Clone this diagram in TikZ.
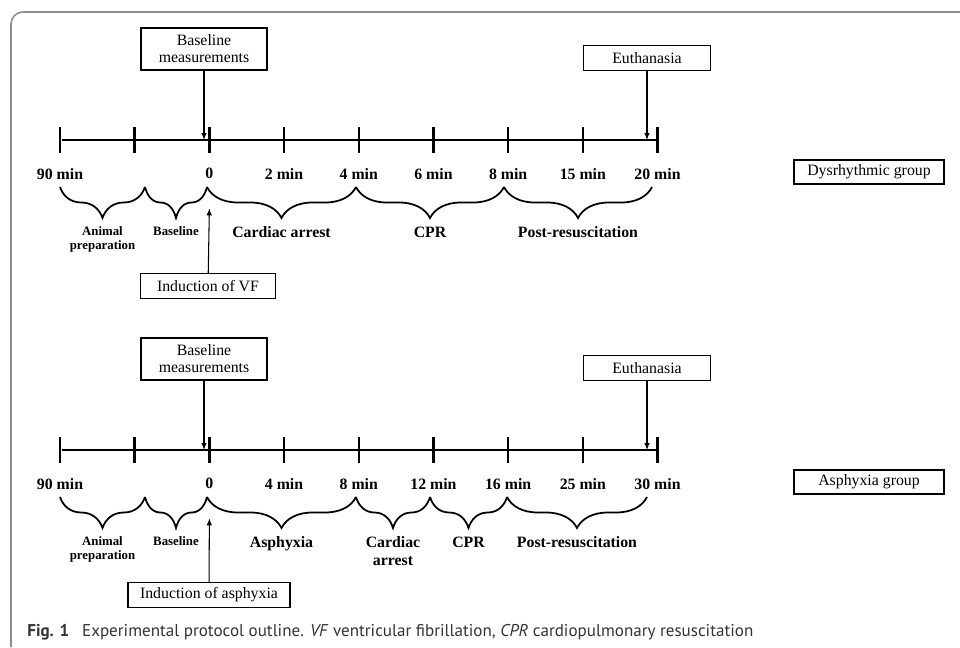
\documentclass[tikz,border=0pt]{standalone}
\usepackage{fontspec}
\setmainfont{Liberation Serif}
\newfontfamily\capfont{PT Sans}
\usetikzlibrary{positioning,arrows.meta,decorations.pathreplacing}

\begin{document}
\begin{tikzpicture}[x=0.02cm,y=-0.02cm,
  tickmark/.style={fill=black,inner sep=0pt,minimum width=0.05cm,minimum height=0.52cm},
  timeline/.style={line width=1.2pt},
  timelabel/.style={font=\bfseries\fontsize{9}{10}\selectfont,inner sep=0pt},
  phase/.style={font=\bfseries\fontsize{9}{10.2}\selectfont,inner sep=0pt,align=center},
  smallphase/.style={font=\bfseries\fontsize{7.3}{7.6}\selectfont,inner sep=0pt,align=center},
  eventbox/.style={draw,line width=0.8pt,inner sep=0pt,minimum height=0.5cm,align=center,font=\fontsize{9}{9.6}\selectfont},
  period/.style={decorate,decoration={brace,mirror,amplitude=0.62cm},line width=1pt},
  pointer/.style={-{Latex[length=1.4mm,width=1.1mm]},line width=0.6pt}]
	\useasboundingbox (0,0) rectangle (960,647);
	\draw[black!45,line width=0.9pt,rounded corners=0.24cm] (960,12) -| (11,647);

	\node[tickmark] (a) at (60,140) {};
	\node[tickmark] (b) [right=1.43cm of a] {};
	\node[tickmark] (c) [right=1.43cm of b] {};
	\node[tickmark] (d) [right=1.43cm of c] {};
	\node[tickmark] (e) [right=1.43cm of d] {};
	\node[tickmark] (f) [right=1.43cm of e] {};
	\node[tickmark] (g) [right=1.43cm of f] {};
	\node[tickmark] (h) [right=1.43cm of g] {};
	\node[tickmark] (i) [right=1.43cm of h] {};
	\draw[timeline] (a) -- (i);

	\node[timelabel] (la) [below=0.29cm of a] {90 min};
	\node[timelabel] (lc) [below=0.29cm of c] {0};
	\node[timelabel] (ld) [below=0.29cm of d] {2 min};
	\node[timelabel] (le) [below=0.29cm of e] {4 min};
	\node[timelabel] (lf) [below=0.29cm of f] {6 min};
	\node[timelabel] (lg) [below=0.29cm of g] {8 min};
	\node[timelabel] (lh) [below=0.29cm of h] {15 min};
	\node[timelabel] (li) [below=0.29cm of i] {20 min};

	\coordinate (p1) at (60,187);
	\coordinate (p2) at (145,187);
	\coordinate (p3) at (207,187);
	\coordinate (p4) at (356,187);
	\coordinate (p5) at (504,187);
	\coordinate (p6) at (652,187);
	\draw[period] (p1) -- (p2) node[smallphase,midway,below=0.78cm] (prep1) {Animal\\preparation};
	\draw[period] (p2) -- (p3) node[smallphase,midway,below=0.78cm] (base1) {Baseline};
	\draw[period] (p3) -- (p4) node[phase,midway,below=0.78cm] (arrest1) {Cardiac arrest};
	\draw[period] (p4) -- (p5) node[phase,midway,below=0.78cm] (cpr1) {CPR};
	\draw[period] (p5) -- (p6) node[phase,midway,below=0.78cm] (post1) {Post-resuscitation};

	\node[eventbox,minimum width=2.52cm,minimum height=0.84cm] (bm1) at (204,49) {Baseline\\measurements};
	\node[eventbox,minimum width=2.54cm] (eu1) at (647,58) {Euthanasia};
	\node[eventbox,minimum width=2.7cm] (iv) at (208,286) {Induction of VF};
	\node[eventbox,minimum width=3cm,minimum height=0.48cm] (dg) at (869,172) {Dysrhythmic group};
	\node[coordinate] (v1) [below=1.1cm of c] {};
	\draw[pointer] (bm1) -- (bm1 |- c);
	\draw[pointer] (eu1) -- (eu1 |- i);
	\draw[pointer] (iv) -- (v1);

	\node[tickmark] (j) at (60,450) {};
	\node[tickmark] (k) [right=1.43cm of j] {};
	\node[tickmark] (l) [right=1.43cm of k] {};
	\node[tickmark] (m) [right=1.43cm of l] {};
	\node[tickmark] (n) [right=1.43cm of m] {};
	\node[tickmark] (o) [right=1.43cm of n] {};
	\node[tickmark] (p) [right=1.43cm of o] {};
	\node[tickmark] (q) [right=1.43cm of p] {};
	\node[tickmark] (r) [right=1.43cm of q] {};
	\draw[timeline] (j) -- (r);

	\node[timelabel] (lj) [below=0.29cm of j] {90 min};
	\node[timelabel] (ll) [below=0.29cm of l] {0};
	\node[timelabel] (lm) [below=0.29cm of m] {4 min};
	\node[timelabel] (ln) [below=0.29cm of n] {8 min};
	\node[timelabel] (lo) [below=0.29cm of o] {12 min};
	\node[timelabel] (lp) [below=0.29cm of p] {16 min};
	\node[timelabel] (lq) [below=0.29cm of q] {25 min};
	\node[timelabel] (lr) [below=0.29cm of r] {30 min};

	\coordinate (q1) at (60,497);
	\coordinate (q2) at (145,497);
	\coordinate (q3) at (207,497);
	\coordinate (q4) at (356,497);
	\coordinate (q5) at (430,497);
	\coordinate (q6) at (507,497);
	\coordinate (q7) at (647,497);
	\draw[period] (q1) -- (q2) node[smallphase,midway,below=0.78cm] (prep2) {Animal\\preparation};
	\draw[period] (q2) -- (q3) node[smallphase,midway,below=0.78cm] (base2) {Baseline};
	\draw[period] (q3) -- (q4) node[phase,midway,below=0.78cm] (asph2) {Asphyxia};
	\draw[period] (q4) -- (q5) node[phase,midway,below=0.78cm] (arrest2) {Cardiac\\arrest};
	\draw[period] (q5) -- (q6) node[phase,midway,below=0.78cm] (cpr2) {CPR};
	\draw[period] (q6) -- (q7) node[phase,midway,below=0.78cm] (post2) {Post-resuscitation};

	\node[eventbox,minimum width=2.52cm,minimum height=0.84cm] (bm2) at (204,359) {Baseline\\measurements};
	\node[eventbox,minimum width=2.54cm] (eu2) at (647,368) {Euthanasia};
	\node[eventbox,minimum width=3.24cm] (ia) at (209,595) {Induction of asphyxia};
	\node[eventbox,minimum width=3cm,minimum height=0.48cm] (ag) at (869,482) {Asphyxia group};
	\node[coordinate] (v2) [below=1.1cm of l] {};
	\draw[pointer] (bm2) -- (bm2 |- l);
	\draw[pointer] (eu2) -- (eu2 |- r);
	\draw[pointer] (ia) -- (v2);

	\node[anchor=base west,inner sep=0pt,text=black!80,font=\capfont\fontsize{9.7}{12}\selectfont] (cap) at (27,636) {\textbf{Fig. 1}\hspace{0.75em}Experimental protocol outline. \textit{VF} ventricular fibrillation, \textit{CPR} cardiopulmonary resuscitation};
\end{tikzpicture}
\end{document}
